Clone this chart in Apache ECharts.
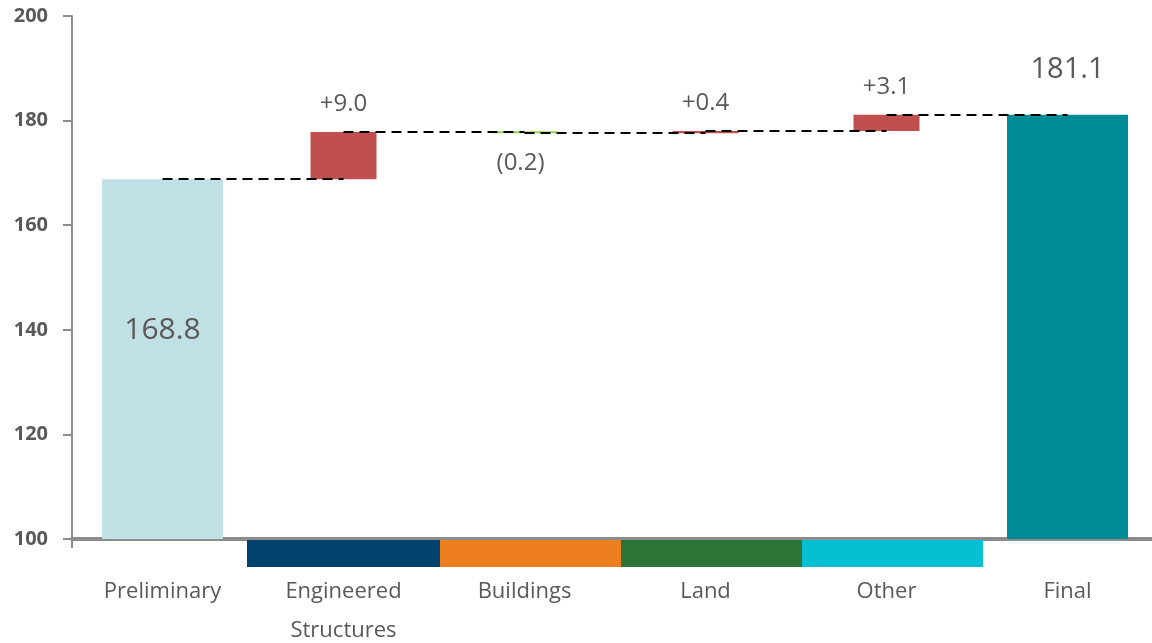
<!DOCTYPE html>
<html>
<head>
<meta charset="utf-8">
<script src="https://cdn.jsdelivr.net/npm/echarts@6/dist/echarts.min.js"></script>
<style>
html,body{margin:0;padding:0;background:#fff;}
#c{width:1152px;height:643px;}
</style>
</head>
<body>
<div id="c"></div>
<script>
// ---- data ----
const categories = ['Preliminary', 'Engineered\nStructures', 'Buildings', 'Land', 'Other', 'Final'];
const totals = [168.8, null, null, null, null, 181.1];
const changes = [null, 9.0, -0.2, 0.4, 3.1, null];
const changeLabels = ['', '+9.0', '(0.2)', '+0.4', '+3.1', ''];
const totalLabels = ['168.8', '', '', '', '', '181.1'];
const bandCategories = [1, 2, 3, 4];
const yTicks = [100, 120, 140, 160, 180, 200];

// ---- styles ----
const bandColors = {1: '#00416f', 2: '#ee7f1f', 3: '#2c7437', 4: '#07bfd3'};
const totalColors = ['#c1e0e5', null, null, null, null, '#008b96'];
const FONT = 'Open Sans';
const TXT = '#595959';

// derived waterfall pieces
const base = [], delta = [], level = [];
let run = totals[0];
level[0] = run;
for (let i = 0; i < categories.length; i++) {
  if (changes[i] == null) { base.push(null); delta.push(null); continue; }
  const start = run, end = run + changes[i];
  base.push(Math.min(start, end));
  delta.push({value: Math.abs(changes[i]), up: changes[i] >= 0});
  run = end;
  level[i] = run;
}
level[categories.length - 1] = totals[categories.length - 1];

// connector segments: from center i to center i+1 at the level after bar i
const segs = [];
for (let i = 0; i < categories.length - 1; i++) {
  segs.push([{coord: [i, level[i]]}, {coord: [i + 1, level[i]]}]);
}

const chart = echarts.init(document.getElementById('c'));
chart.setOption({
  animation: false,
  grid: {left: 72, top: 16, width: 1086, bottom: 104, containLabel: false, outerBoundsMode: 'none'},
  xAxis: [{
    type: 'category',
    data: categories,
    axisLine: {lineStyle: {color: '#8c8c8c', width: 4}},
    axisTick: {show: true, length: 9, lineStyle: {color: '#8c8c8c', width: 2}},
    axisLabel: {color: TXT, fontFamily: FONT, fontSize: 22, margin: 33, lineHeight: 39, interval: 0}
  }, {
    type: 'category',
    data: categories,
    show: false
  }],
  yAxis: {
    type: 'value',
    min: yTicks[0], max: yTicks[yTicks.length - 1], interval: 20,
    splitLine: {show: false},
    axisLine: {show: true, lineStyle: {color: '#8c8c8c', width: 2}},
    axisTick: {show: true, length: 9, lineStyle: {color: '#8c8c8c', width: 2}},
    axisLabel: {color: TXT, fontFamily: FONT, fontSize: 20, fontWeight: 'bold', margin: 24}
  },
  series: [
    {
      type: 'bar',
      xAxisIndex: 0,
      barWidth: 121,
      data: totals.map((v, i) => v == null ? null : {value: v, itemStyle: {color: totalColors[i]}}),
      label: {show: false},
      markLine: {
        silent: true,
        symbol: ['none', 'none'],
        label: {show: false},
        lineStyle: {color: '#000', type: [10, 6], width: 2},
        data: segs,
        z: 5
      },
      z: 2
    },
    {
      type: 'bar',
      xAxisIndex: 1,
      stack: 'w',
      barWidth: 66,
      itemStyle: {color: 'transparent'},
      data: base,
      silent: true
    },
    {
      type: 'bar',
      xAxisIndex: 1,
      stack: 'w',
      barWidth: 66,
      barMinHeight: 2,
      data: delta.map(d => d == null ? null : {value: d.value, itemStyle: {color: d.up ? '#c0504d' : '#92d050'}})
    },
    {
      // value labels
      type: 'custom',
      xAxisIndex: 0,
      data: categories.map((c, i) => [i, 0]),
      renderItem: function (params, api) {
        const i = api.value(0);
        if (totals[i] != null) {
          const top = api.coord([i, totals[i]]);
          const bot = api.coord([i, yTicks[0]]);
          if (i === 0) {
            return {type: 'text', style: {text: totalLabels[i], x: top[0], y: (top[1] + bot[1]) / 2 - 29,
              align: 'center', verticalAlign: 'middle', fill: TXT, font: '30px "' + FONT + '"'}};
          }
          return {type: 'text', style: {text: totalLabels[i], x: top[0], y: top[1] - 45,
            align: 'center', verticalAlign: 'middle', fill: TXT, font: '29px "' + FONT + '"'}};
        }
        const lo = api.coord([i, base[i]]);
        const hi = api.coord([i, base[i] + delta[i].value]);
        if (delta[i].up) {
          return {type: 'text', style: {text: changeLabels[i], x: hi[0], y: hi[1] - 28,
            align: 'center', verticalAlign: 'middle', fill: TXT, font: '24px "' + FONT + '"'}};
        }
        return {type: 'text', style: {text: changeLabels[i], x: lo[0] - 4, y: lo[1] + 30,
          align: 'center', verticalAlign: 'middle', fill: TXT, font: '24px "' + FONT + '"'}};
      },
      z: 10
    },
    {
      // coloured bands under the axis (drawn right-to-left so each overlaps the next)
      type: 'custom',
      xAxisIndex: 0,
      clip: false,
      data: bandCategories.slice().reverse().map(i => [i, yTicks[0]]),
      renderItem: function (params, api) {
        const i = api.value(0);
        const p = api.coord([i, api.value(1)]);
        const w = api.size([1, 0])[0];
        return {type: 'rect', shape: {x: p[0] - w / 2 - 6, y: p[1] + 1, width: w + 12, height: 27},
          style: {fill: bandColors[i]}};
      },
      z: 10
    }
  ]
});
</script>
</body>
</html>
